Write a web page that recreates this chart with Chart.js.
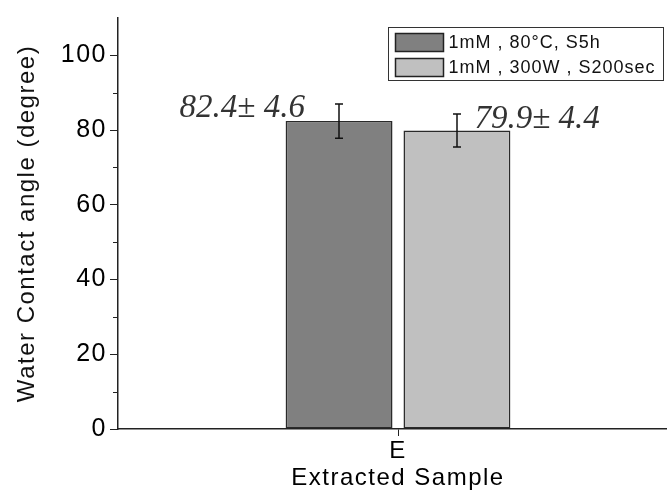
<!DOCTYPE html>
<html>
<head>
<meta charset="utf-8">
<script src="https://cdn.jsdelivr.net/npm/chart.js@4"></script>
<style>
  html, body { margin: 0; padding: 0; background: #fff; }
  #wrap { width: 667px; height: 493px; overflow: hidden; }
</style>
</head>
<body>
<div id="wrap"><canvas id="myChart" width="678" height="493"></canvas></div>
<script>
const categories = ['E'];
const seriesNames = ['1mM , 80\u00B0C, S5h', '1mM , 300W , S200sec'];
const meanValues = [82.4, 79.9];
const errorValues = [4.6, 4.4];
const valueLabels = ['82.4\u00B1 4.6', '79.9\u00B1 4.4'];
const barColors = ['#808080', '#c0c0c0'];

const sansFont = '"Liberation Sans", Arial, sans-serif';

// wide letter spacing like the original plot (canvas resize resets it, so set it each pass)
const spacingPlugin = {
  id: 'spacing',
  beforeUpdate(chart) { chart.ctx.letterSpacing = '1.5px'; },
  beforeDraw(chart) { chart.ctx.letterSpacing = '1.5px'; }
};

// error bars, value labels, minor ticks, boxed legend
const extrasPlugin = {
  id: 'extras',
  afterDatasetsDraw(chart) {
    const ctx = chart.ctx;
    const y = chart.scales.y;
    ctx.save();
    ctx.strokeStyle = '#111';
    ctx.lineWidth = 1.5;
    chart.data.datasets.forEach((ds, i) => {
      const bar = chart.getDatasetMeta(i).data[0];
      const x = Math.round(bar.x);
      const top = y.getPixelForValue(meanValues[i] + errorValues[i]);
      const bot = y.getPixelForValue(meanValues[i] - errorValues[i]);
      ctx.beginPath();
      ctx.moveTo(x, top); ctx.lineTo(x, bot);
      ctx.moveTo(x - 4, top); ctx.lineTo(x + 4, top);
      ctx.moveTo(x - 4, bot); ctx.lineTo(x + 4, bot);
      ctx.stroke();
    });

    // value labels
    ctx.letterSpacing = '0px';
    ctx.fillStyle = '#333';
    ctx.font = 'italic 33px "Liberation Serif", "DejaVu Serif", serif';
    ctx.textBaseline = 'alphabetic';
    ctx.textAlign = 'left';
    const b0 = chart.getDatasetMeta(0).data[0];
    const b1 = chart.getDatasetMeta(1).data[0];
    ctx.fillText(valueLabels[0], b0.x - b0.width / 2 - 106, b0.y - 4);
    ctx.fillText(valueLabels[1], b1.x + b1.width / 2 - 36, b1.y - 2);

    // minor ticks on y axis
    ctx.strokeStyle = '#222';
    ctx.lineWidth = 1;
    for (let v = 10; v <= 90; v += 20) {
      const py = Math.round(y.getPixelForValue(v)) + 0.5;
      ctx.beginPath();
      ctx.moveTo(y.right - 5, py); ctx.lineTo(y.right, py);
      ctx.stroke();
    }

    // legend box
    const lx = 388.5, ly = 27.5, lw = 275, lh = 53;
    ctx.strokeStyle = '#333';
    ctx.lineWidth = 1;
    ctx.strokeRect(lx, ly, lw, lh);
    ctx.letterSpacing = '1px';
    ctx.font = '18px ' + sansFont;
    ctx.textAlign = 'left';
    ctx.textBaseline = 'middle';
    seriesNames.forEach((name, i) => {
      const sy = ly + 6 + i * 25;
      ctx.fillStyle = barColors[i];
      ctx.fillRect(lx + 7, sy, 48, 18);
      ctx.strokeStyle = '#222';
      ctx.lineWidth = 1.5;
      ctx.strokeRect(lx + 7, sy, 48, 18);
      ctx.fillStyle = '#111';
      ctx.fillText(name, lx + 60, sy + 10);
    });
    ctx.restore();
  }
};

const barChartContext = document.getElementById('myChart').getContext('2d');

new Chart(barChartContext, {
  type: 'bar',
  data: {
    labels: categories,
    datasets: seriesNames.map((name, i) => ({
      label: name,
      data: [meanValues[i]],
      backgroundColor: barColors[i],
      borderColor: '#2a2a2a',
      borderWidth: 1.5,
      borderSkipped: false,
      categoryPercentage: 0.421,
      barPercentage: 0.907
    }))
  },
  options: {
    responsive: false,
    animation: false,
    layout: { padding: { top: 12, right: 0, left: 0, bottom: 0 } },
    plugins: {
      legend: { display: false },
      tooltip: { enabled: false }
    },
    scales: {
      x: {
        afterFit(scale) { scale.height = 64; },
        grid: {
          drawOnChartArea: false,
          offset: false,
          tickLength: 7,
          tickColor: '#222'
        },
        border: { color: '#222', width: 1.5 },
        ticks: {
          color: '#000',
          font: { family: sansFont, size: 24 },
          padding: 1
        },
        title: {
          display: true,
          text: 'Extracted Sample',
          color: '#000',
          font: { family: sansFont, size: 24 },
          padding: { top: -6, bottom: 0 }
        }
      },
      y: {
        min: 0,
        max: 110,
        afterFit(scale) { scale.width = 118; },
        afterBuildTicks(scale) {
          scale.ticks = scale.ticks.filter(t => t.value <= 100);
        },
        ticks: {
          stepSize: 20,
          color: '#000',
          font: { family: sansFont, size: 25 },
          padding: 3
        },
        grid: {
          drawOnChartArea: false,
          tickLength: 8,
          tickColor: '#222'
        },
        border: { color: '#222', width: 1.5 },
        title: {
          display: true,
          text: 'Water Contact angle (degree)',
          color: '#111',
          font: { family: sansFont, size: 24 },
          padding: { top: 13, bottom: 0 }
        }
      }
    }
  },
  plugins: [spacingPlugin, extrasPlugin]
});
</script>
</body>
</html>
